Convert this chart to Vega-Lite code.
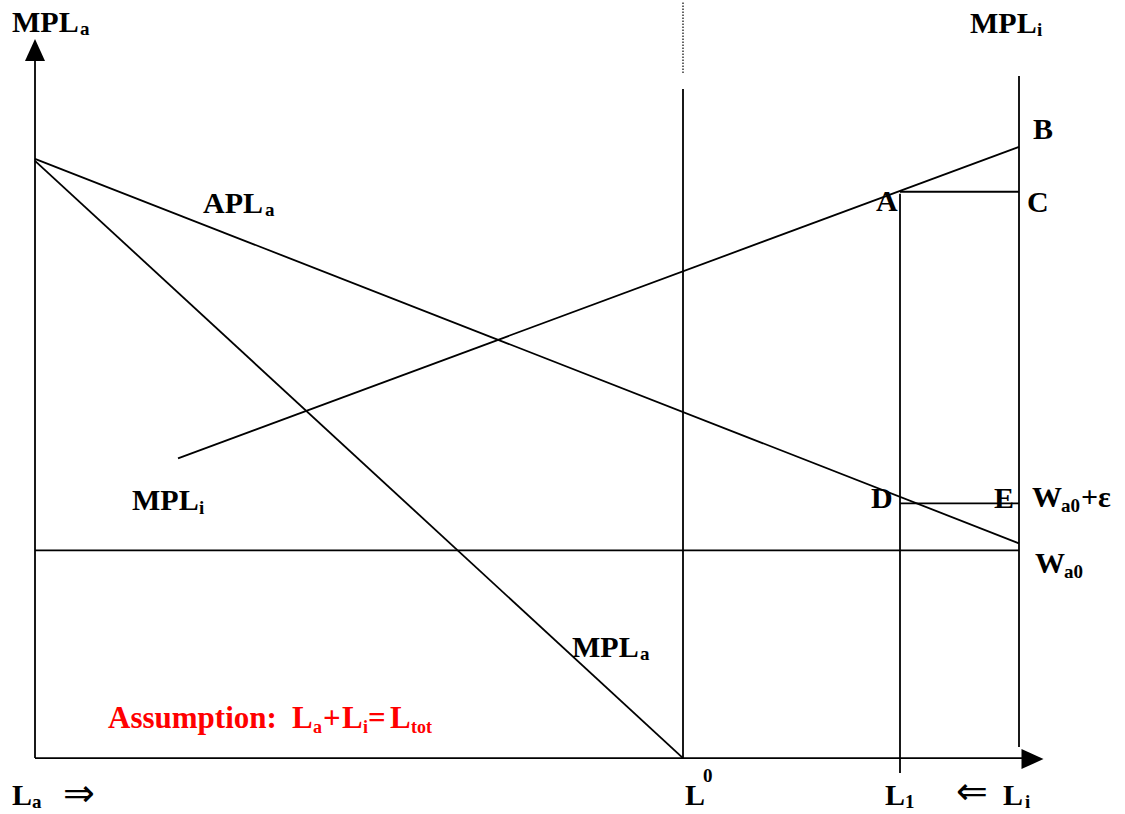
{
  "$schema": "https://vega.github.io/schema/vega-lite/v6.json",
  "width": 1125,
  "height": 814,
  "autosize": {"type": "fit", "contains": "padding"},
  "padding": 0,
  "background": "white",
  "config": {"view": {"stroke": null}},
  "datasets": {
    "segments": [
      {"name": "vertical axis", "x": 0, "y": 0, "x2": 0, "y2": 698},
      {"name": "horizontal axis", "x": 0, "y": 0, "x2": 987, "y2": 0},
      {"name": "L0", "x": 648, "y": 0, "x2": 648, "y2": 670},
      {"name": "right axis", "x": 984, "y": 11, "x2": 984, "y2": 683},
      {"name": "L1", "x": 865, "y": -15, "x2": 865, "y2": 565},
      {"name": "MPLa", "x": 0, "y": 598, "x2": 648, "y2": 0},
      {"name": "APLa", "x": 0, "y": 600, "x2": 984, "y2": 215},
      {"name": "MPLi", "x": 143, "y": 300, "x2": 984, "y2": 612},
      {"name": "A-C", "x": 865, "y": 567, "x2": 984, "y2": 567},
      {"name": "D-E", "x": 865, "y": 255, "x2": 984, "y2": 255},
      {"name": "Wa0", "x": 0, "y": 208, "x2": 984, "y2": 208}
    ],
    "dotted": [
      {"name": "divider", "x": 648, "y": 686, "x2": 648, "y2": 758}
    ],
    "heads": [
      {"dir": "up", "x": 0, "y": 709},
      {"dir": "right", "x": 997.5, "y": -1}
    ],
    "labels": [
      {"role": "main", "text": "MPL", "x": -23, "y": 727},
      {"role": "sub", "text": "a", "x": 45, "y": 724},
      {"role": "main", "text": "MPL", "x": 935, "y": 726},
      {"role": "sub", "text": "i", "x": 1002, "y": 723},
      {"role": "main", "text": "B", "x": 998, "y": 620},
      {"role": "main", "text": "A", "x": 841, "y": 548},
      {"role": "main", "text": "C", "x": 992, "y": 547},
      {"role": "main", "text": "APL", "x": 168, "y": 546},
      {"role": "sub", "text": "a", "x": 230, "y": 543},
      {"role": "main", "text": "MPL", "x": 97, "y": 248},
      {"role": "sub", "text": "i", "x": 164, "y": 244},
      {"role": "main", "text": "D", "x": 836, "y": 250},
      {"role": "main", "text": "E", "x": 959, "y": 250},
      {"role": "main", "text": "W", "x": 997, "y": 251},
      {"role": "sub", "text": "a0", "x": 1026, "y": 246},
      {"role": "main", "text": "+ε", "x": 1046, "y": 251},
      {"role": "main", "text": "W", "x": 1000, "y": 185},
      {"role": "sub", "text": "a0", "x": 1029, "y": 180},
      {"role": "main", "text": "MPL", "x": 537, "y": 101},
      {"role": "sub", "text": "a", "x": 605, "y": 98},
      {"role": "main", "text": "L", "x": -23, "y": -47},
      {"role": "sub", "text": "a", "x": -3, "y": -50},
      {"role": "main", "text": "L", "x": 650, "y": -47},
      {"role": "sub", "text": "0", "x": 668, "y": -24},
      {"role": "main", "text": "L", "x": 850, "y": -47},
      {"role": "sub", "text": "1", "x": 870, "y": -50},
      {"role": "main", "text": "L", "x": 968, "y": -47},
      {"role": "sub", "text": "i", "x": 990, "y": -50},
      {"role": "arrow", "text": "⇒", "x": 44, "y": -37},
      {"role": "arrow", "text": "⇐", "x": 937, "y": -35},
      {"role": "redmain", "text": "Assumption:", "x": 73, "y": 30},
      {"role": "redmain", "text": "L", "x": 257, "y": 30},
      {"role": "redsub", "text": "a", "x": 278, "y": 25},
      {"role": "redmain", "text": "+", "x": 288, "y": 30},
      {"role": "redmain", "text": "L", "x": 307, "y": 30},
      {"role": "redsub", "text": "i", "x": 328, "y": 25},
      {"role": "redmain", "text": "=", "x": 333, "y": 30},
      {"role": "redmain", "text": "L", "x": 355, "y": 30},
      {"role": "redsub", "text": "tot", "x": 376, "y": 25}
    ]
  },
  "layer": [
    {
      "data": {"name": "segments"},
      "mark": {"type": "rule", "color": "black", "strokeWidth": 1.8},
      "encoding": {
        "x": {"field": "x", "type": "quantitative", "scale": {"domain": [-35, 1090], "nice": false, "zero": false}, "axis": null},
        "y": {"field": "y", "type": "quantitative", "scale": {"domain": [-56, 758], "nice": false, "zero": false}, "axis": null},
        "x2": {"field": "x2"},
        "y2": {"field": "y2"}
      }
    },
    {
      "data": {"name": "dotted"},
      "mark": {"type": "rule", "color": "black", "strokeWidth": 1.2, "strokeDash": [1.5, 1.5]},
      "encoding": {
        "x": {"field": "x", "type": "quantitative"},
        "y": {"field": "y", "type": "quantitative"},
        "x2": {"field": "x2"},
        "y2": {"field": "y2"}
      }
    },
    {
      "data": {"name": "heads"},
      "mark": {"type": "point", "filled": true, "color": "black", "opacity": 1, "size": 484, "strokeWidth": 0},
      "encoding": {
        "x": {"field": "x", "type": "quantitative"},
        "y": {"field": "y", "type": "quantitative"},
        "shape": {"field": "dir", "type": "nominal", "legend": null,
          "scale": {"domain": ["up", "right"], "range": ["M0,-1L-0.91,1L0.91,1Z", "M1,0L-1,-0.91L-1,0.91Z"]}}
      }
    },
    {
      "data": {"name": "labels"},
      "transform": [{"filter": "datum.role === 'main'"}],
      "mark": {"type": "text", "font": "Liberation Serif", "fontWeight": "bold", "fontSize": 30, "align": "left", "baseline": "alphabetic", "color": "black"},
      "encoding": {
        "x": {"field": "x", "type": "quantitative"},
        "y": {"field": "y", "type": "quantitative"},
        "text": {"field": "text"}
      }
    },
    {
      "data": {"name": "labels"},
      "transform": [{"filter": "datum.role === 'sub'"}],
      "mark": {"type": "text", "font": "Liberation Serif", "fontWeight": "bold", "fontSize": 19, "align": "left", "baseline": "alphabetic", "color": "black"},
      "encoding": {
        "x": {"field": "x", "type": "quantitative"},
        "y": {"field": "y", "type": "quantitative"},
        "text": {"field": "text"}
      }
    },
    {
      "data": {"name": "labels"},
      "transform": [{"filter": "datum.role === 'arrow'"}],
      "mark": {"type": "text", "font": "DejaVu Sans", "fontSize": 38, "align": "center", "baseline": "middle", "color": "black"},
      "encoding": {
        "x": {"field": "x", "type": "quantitative"},
        "y": {"field": "y", "type": "quantitative"},
        "text": {"field": "text"}
      }
    },
    {
      "data": {"name": "labels"},
      "transform": [{"filter": "datum.role === 'redmain'"}],
      "mark": {"type": "text", "font": "Liberation Serif", "fontWeight": "bold", "fontSize": 31, "align": "left", "baseline": "alphabetic", "color": "#ff0000"},
      "encoding": {
        "x": {"field": "x", "type": "quantitative"},
        "y": {"field": "y", "type": "quantitative"},
        "text": {"field": "text"}
      }
    },
    {
      "data": {"name": "labels"},
      "transform": [{"filter": "datum.role === 'redsub'"}],
      "mark": {"type": "text", "font": "Liberation Serif", "fontWeight": "bold", "fontSize": 18, "align": "left", "baseline": "alphabetic", "color": "#ff0000"},
      "encoding": {
        "x": {"field": "x", "type": "quantitative"},
        "y": {"field": "y", "type": "quantitative"},
        "text": {"field": "text"}
      }
    }
  ]
}
